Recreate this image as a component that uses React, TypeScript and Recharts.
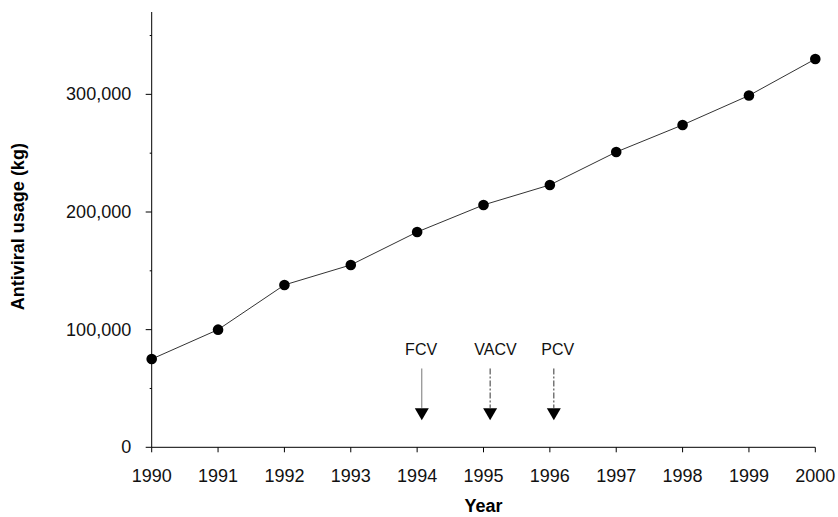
import React from 'react';
import { LineChart, Line, XAxis, YAxis, ReferenceLine, ReferenceDot, Label } from 'recharts';

const years = [1990, 1991, 1992, 1993, 1994, 1995, 1996, 1997, 1998, 1999, 2000];
const usage = [75000, 100000, 138000, 155000, 183000, 206000, 223000, 251000, 274000, 299000, 330000];
const yTicks = [0, 50000, 100000, 150000, 200000, 250000, 300000, 350000];
const yMajor = [0, 100000, 200000, 300000];

const drugNames = ['FCV', 'VACV', 'PCV'];
const drugArrowYears = [1994.07, 1995.1, 1996.06];
const drugLabelYears = [1994.06, 1995.18, 1996.12];
const arrowTopValue = 67000;
const arrowBaseValue = 33500;
const arrowTipValue = 23000;
const drugLabelValue = 83500;

const data = years.map((y, i) => ({ year: y, usage: usage[i] }));

const FONT = '"Liberation Sans", Arial, Helvetica, sans-serif';

const YTick = (props: any) => {
  const { x, y, payload } = props;
  const major = yMajor.includes(payload.value);
  return (
    <g>
      <line x1={x - (major ? 6 : 2)} y1={y} x2={x} y2={y} stroke="#000" strokeWidth={1} />
      {major && (
        <text x={x - 20.5} y={y} textAnchor="end" dominantBaseline="central" fontFamily={FONT} fontSize={18} fill="#111">
          {payload.value.toLocaleString('en-US')}
        </text>
      )}
    </g>
  );
};

const XTick = (props: any) => {
  const { x, y, payload } = props;
  return (
    <g>
      <line x1={x} y1={y} x2={x} y2={y + 5} stroke="#000" strokeWidth={1} />
      <text x={x} y={y + 29} textAnchor="middle" dominantBaseline="central" fontFamily={FONT} fontSize={18} fill="#111">
        {payload.value}
      </text>
    </g>
  );
};

const Triangle = (props: any) => {
  const { cx, cy } = props;
  if (cx == null || cy == null) return null;
  return <path d={`M${cx - 7},${cy - 12} L${cx + 7},${cy - 12} L${cx},${cy} Z`} fill="#000" />;
};

const makeLabelShape = (name: string) => (props: any) => {
  const { cx, cy } = props;
  if (cx == null || cy == null) return null;
  return (
    <text x={cx} y={cy} textAnchor="middle" dominantBaseline="central" fontFamily={FONT} fontSize={16} fill="#111">
      {name}
    </text>
  );
};

export default function App() {
  return (
    <div style={{ position: 'absolute', left: 0, top: 0, width: 838, height: 517, background: '#fff' }}>
      <style>{`body { overflow: hidden; }`}</style>
      <LineChart
        width={838}
        height={517}
        data={data}
        margin={{ top: 12, right: 22.7, bottom: 39.7, left: 0 }}
      >
        <XAxis
          dataKey="year"
          type="number"
          domain={[1990, 2000]}
          ticks={years}
          tick={<XTick />}
          tickLine={false}
          tickSize={0}
          tickMargin={0}
          height={30}
          axisLine={{ stroke: '#000', strokeWidth: 1 }}
          interval={0}
        >
          <Label
            content={(p: any) => {
              const vb = p.viewBox;
              return (
                <text x={vb.x + vb.width / 2} y={vb.y + 59} textAnchor="middle" dominantBaseline="central" fontFamily={FONT} fontSize={18} fontWeight="bold" fill="#000">
                  Year
                </text>
              );
            }}
          />
        </XAxis>
        <YAxis
          type="number"
          domain={[0, 370000]}
          ticks={yTicks}
          tick={<YTick />}
          tickLine={false}
          tickSize={0}
          tickMargin={0}
          width={151.7}
          axisLine={{ stroke: '#000', strokeWidth: 1 }}
          interval={0}
        >
          <Label
            content={(p: any) => {
              const vb = p.viewBox;
              const cy = vb.y + vb.height / 2 - 3;
              return (
                <text x={18} y={cy} transform={`rotate(-90 18 ${cy})`} textAnchor="middle" dominantBaseline="central" fontFamily={FONT} fontSize={18} fontWeight="bold" fill="#000">
                  Antiviral usage (kg)
                </text>
              );
            }}
          />
        </YAxis>
        {drugNames.map((name, i) => (
          <ReferenceLine
            key={`stem-${name}`}
            segment={[
              { x: drugArrowYears[i], y: arrowTopValue },
              { x: drugArrowYears[i], y: arrowBaseValue },
            ]}
            stroke={i === 0 ? '#777' : '#333'}
            strokeWidth={1}
            strokeDasharray={i === 0 ? undefined : '6 2 2 2'}
            ifOverflow="visible"
          />
        ))}
        {drugNames.map((name, i) => (
          <ReferenceDot
            key={`tip-${name}`}
            x={drugArrowYears[i]}
            y={arrowTipValue}
            r={0}
            shape={<Triangle />}
            ifOverflow="visible"
          />
        ))}
        {drugNames.map((name, i) => (
          <ReferenceDot
            key={`lbl-${name}`}
            x={drugLabelYears[i]}
            y={drugLabelValue}
            r={0}
            shape={makeLabelShape(name)}
            ifOverflow="visible"
          />
        ))}
        <Line
          type="linear"
          dataKey="usage"
          stroke="#333"
          strokeWidth={1}
          dot={{ r: 5.3, fill: '#000', stroke: '#000', strokeWidth: 0 }}
          activeDot={false}
          isAnimationActive={false}
        />
      </LineChart>
    </div>
  );
}
